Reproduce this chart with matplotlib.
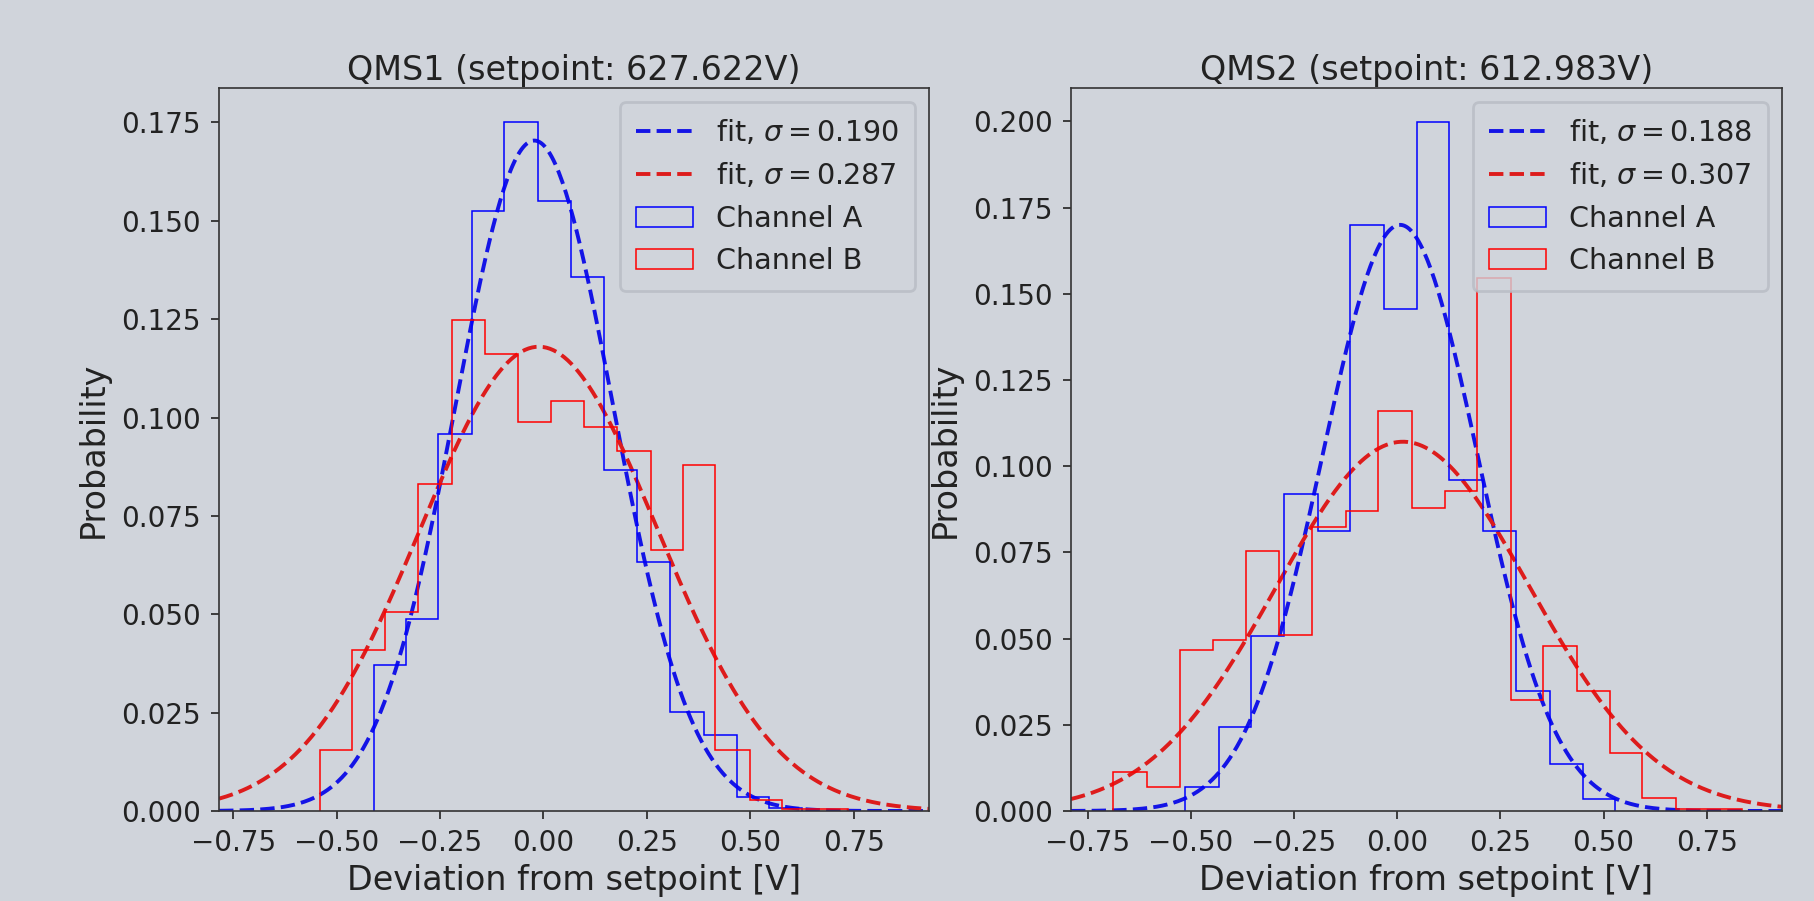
import numpy as np
import matplotlib
matplotlib.use("Agg")
import matplotlib.pyplot as plt

# values
titles = ["QMS1 (setpoint: 627.622V)", "QMS2 (setpoint: 612.983V)"]

# left panel (QMS1)
edges_a1 = [-0.410, -0.333, -0.254, -0.173, -0.094, -0.013, 0.067, 0.146,
            0.226, 0.307, 0.388, 0.467, 0.546, 0.626]
probs_a1 = [0.0372, 0.0488, 0.0958, 0.1524, 0.1750, 0.1550, 0.1356, 0.0867,
            0.0634, 0.0252, 0.0194, 0.0036, 0.0008]
edges_b1 = [-0.540, -0.462, -0.382, -0.302, -0.222, -0.141, -0.062, 0.019,
            0.099, 0.179, 0.260, 0.337, 0.416, 0.499, 0.576, 0.656, 0.736]
probs_b1 = [0.0154, 0.0408, 0.0507, 0.0831, 0.1248, 0.1162, 0.0988, 0.1043,
            0.0975, 0.0916, 0.0664, 0.0879, 0.0154, 0.0028, 0.0005, 0.0005]

# right panel (QMS2)
edges_a2 = [-0.515, -0.432, -0.353, -0.274, -0.193, -0.114, -0.032, 0.047,
            0.126, 0.208, 0.288, 0.369, 0.449, 0.527]
probs_a2 = [0.0069, 0.0244, 0.0507, 0.0918, 0.0811, 0.1701, 0.1456, 0.1997,
            0.0959, 0.0811, 0.0349, 0.0137, 0.0036]
edges_b2 = [-0.688, -0.606, -0.526, -0.446, -0.365, -0.287, -0.207, -0.124,
            -0.046, 0.035, 0.115, 0.194, 0.276, 0.354, 0.436, 0.516, 0.594,
            0.676, 0.755, 0.834]
probs_b2 = [0.0114, 0.0069, 0.0466, 0.0496, 0.0753, 0.0510, 0.0825, 0.0870,
            0.1160, 0.0879, 0.0929, 0.1547, 0.0321, 0.0479, 0.0349, 0.0167,
            0.0038, 0.0006, 0.0006]

# gaussian fits: amplitude, mean, sigma
fit_a1 = (0.1704, -0.022, 0.190)
fit_b1 = (0.1180, -0.011, 0.287)
fit_a2 = (0.1700, 0.007, 0.188)
fit_b2 = (0.1071, 0.014, 0.307)

xlims = [(-0.784, 0.932), (-0.790, 0.932)]

bg = "#d0d4db"
ink = "#222222"
plt.rcParams.update({
    "font.family": "DejaVu Sans",
    "font.size": 10,
    "text.color": ink,
    "axes.labelcolor": ink,
    "xtick.color": ink,
    "ytick.color": ink,
    "axes.edgecolor": "#333333",
    "axes.linewidth": 0.6,
    "xtick.major.width": 0.6,
    "ytick.major.width": 0.6,
    "xtick.major.size": 3,
    "ytick.major.size": 3,
})

fig = plt.figure(figsize=(9.075, 4.505), dpi=200, facecolor=bg)
ax1 = fig.add_axes([0.1207, 0.0999, 0.3911, 0.8024])
ax2 = fig.add_axes([0.5901, 0.0999, 0.3917, 0.8024])


def gauss(x, amp, mu, sig):
    return amp * np.exp(-0.5 * ((x - mu) / sig) ** 2)


panels = [
    (ax1, edges_a1, probs_a1, edges_b1, probs_b1, fit_a1, fit_b1),
    (ax2, edges_a2, probs_a2, edges_b2, probs_b2, fit_a2, fit_b2),
]

for i, (ax, ea, pa, eb, pb, fa, fb) in enumerate(panels):
    ax.set_facecolor(bg)
    x = np.linspace(xlims[i][0], xlims[i][1], 400)
    ax.plot(x, gauss(x, *fa), "--", color="#1414e6", lw=1.4,
            label=r"fit, $\sigma = %.3f$" % fa[2])
    ax.plot(x, gauss(x, *fb), "--", color="#dd1c1c", lw=1.4,
            label=r"fit, $\sigma = %.3f$" % fb[2])
    ax.hist(ea[:-1], bins=ea, weights=pa, histtype="step", color="blue",
            lw=0.55, label="Channel A")
    ax.hist(eb[:-1], bins=eb, weights=pb, histtype="step", color="red",
            lw=0.55, label="Channel B")
    ax.set_xlim(*xlims[i])
    ax.set_ylim(0, max(max(pa), max(pb)) * 1.05)
    ax.set_xticks([-0.75, -0.5, -0.25, 0.0, 0.25, 0.5, 0.75])
    ax.set_title(titles[i], fontsize=12, pad=3.0)
    ax.set_xlabel("Deviation from setpoint [V]", fontsize=12, labelpad=2.5)
    ax.set_ylabel("Probability", fontsize=12)
    leg = ax.legend(loc="upper right", facecolor=bg, edgecolor="#b8bcc4",
                    framealpha=0.8, fontsize=10.3, borderpad=0.55)

ax1.set_yticks(np.arange(0, 0.176, 0.025))
ax2.set_yticks(np.arange(0, 0.201, 0.025))

fig.savefig("out.png", dpi=200, facecolor=bg)
